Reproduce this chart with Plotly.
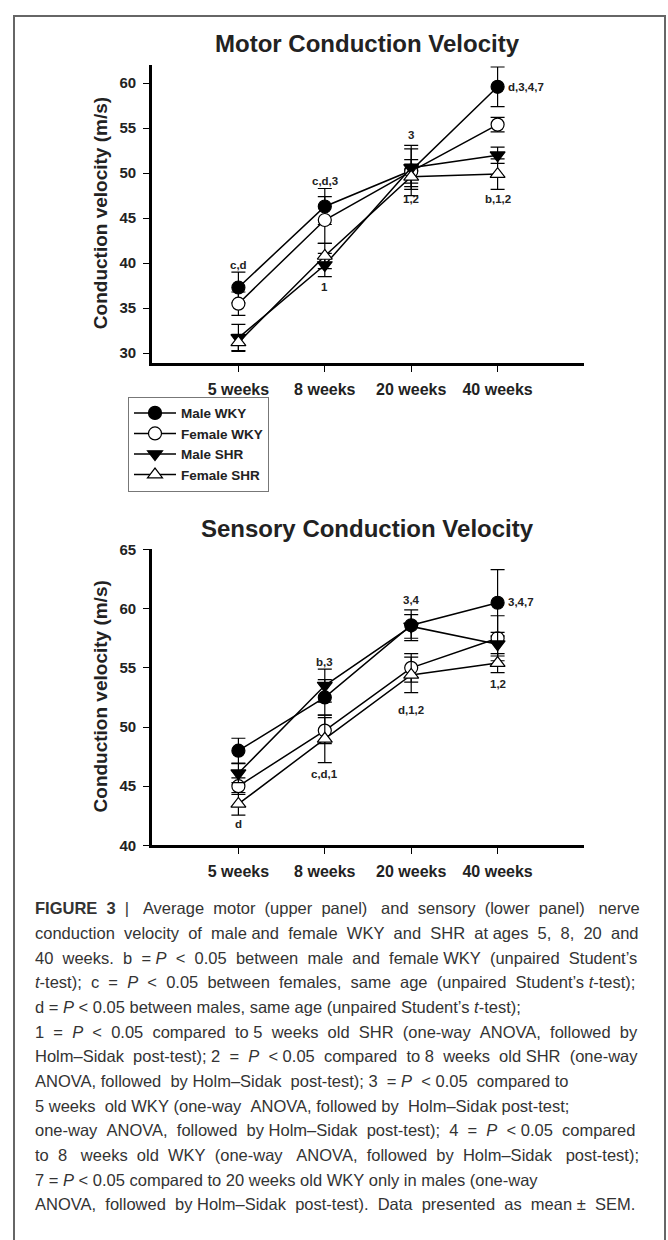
import plotly.graph_objects as go

W, H = 668, 1240

ages = ["5 weeks", "8 weeks", "20 weeks", "40 weeks"]
groups = ["Male WKY", "Female WKY", "Male SHR", "Female SHR"]

# Motor conduction velocity (m/s), mean and SEM
motor_male_wky = [37.3, 46.3, 50.3, 59.6]
motor_female_wky = [35.5, 44.8, 50.2, 55.4]
motor_male_shr = [31.7, 39.8, 50.6, 52.0]
motor_female_shr = [31.2, 40.8, 49.6, 49.9]
motor_male_wky_sem = [1.7, 2.0, 2.8, 2.2]
motor_female_wky_sem = [1.3, 2.6, 1.3, 0.8]
motor_male_shr_sem = [1.5, 1.3, 2.1, 0.9]
motor_female_shr_sem = [0.9, 1.4, 1.4, 1.7]

# Sensory conduction velocity (m/s), mean and SEM
sens_male_wky = [48.0, 52.5, 58.6, 60.5]
sens_female_wky = [45.0, 49.7, 55.0, 57.5]
sens_male_shr = [46.1, 53.5, 58.5, 57.0]
sens_female_shr = [43.5, 49.0, 54.4, 55.4]
sens_male_wky_sem = [1.05, 1.5, 1.3, 2.8]
sens_female_wky_sem = [0.7, 1.1, 1.2, 1.9]
sens_male_shr_sem = [0.8, 1.4, 1.0, 1.0]
sens_female_shr_sem = [0.95, 2.0, 1.5, 0.8]

# significance labels: (age, value position, text, side)
motor_labels = [("5 weeks", 39.8, "c,d", "c"), ("8 weeks", 49.1, "c,d,3", "c"),
                ("8 weeks", 37.4, "1", "c"), ("20 weeks", 54.3, "3", "c"),
                ("20 weeks", 47.1, "1,2", "c"), ("40 weeks", 59.6, "d,3,4,7", "r"),
                ("40 weeks", 47.1, "b,1,2", "c")]
sens_labels = [("5 weeks", 41.8, "d", "c"), ("8 weeks", 55.5, "b,3", "c"),
               ("8 weeks", 46.0, "c,d,1", "c"), ("20 weeks", 60.7, "3,4", "c"),
               ("20 weeks", 51.4, "d,1,2", "c"), ("40 weeks", 60.6, "3,4,7", "r"),
               ("40 weeks", 53.6, "1,2", "c")]

# caption: [..] bold, {..} italic
caption_lines = [
    "[FIGURE] [3] | Average motor (upper panel) and sensory (lower panel) nerve",
    "conduction velocity of male and female WKY and SHR at ages 5, 8, 20 and",
    "40 weeks. b = {P} < 0.05 between male and female WKY (unpaired Student’s",
    "{t}-test); c = {P} < 0.05 between females, same age (unpaired Student’s {t}-test);",
    "d = {P} < 0.05 between males, same age (unpaired Student’s {t}-test);",
    "1 = {P} < 0.05 compared to 5 weeks old SHR (one-way ANOVA, followed by",
    "Holm–Sidak post-test); 2 = {P} < 0.05 compared to 8 weeks old SHR (one-way",
    "ANOVA, followed by Holm–Sidak post-test); 3 = {P} < 0.05 compared to",
    "5 weeks old WKY (one-way ANOVA, followed by Holm–Sidak post-test;",
    "one-way ANOVA, followed by Holm–Sidak post-test); 4 = {P} < 0.05 compared",
    "to 8 weeks old WKY (one-way ANOVA, followed by Holm–Sidak post-test);",
    "7 = {P} < 0.05 compared to 20 weeks old WKY only in males (one-way",
    "ANOVA, followed by Holm–Sidak post-test). Data presented as mean ± SEM.",
]
caption_right = [637, 637, 637, 637, None, 637, 637, 569, 569, 637, 637, None, 637]

FONT = "Arial, Liberation Sans"
CAP_SIZE = 16.5

# Arial advance widths (1/1000 em) used to spread words across a justified line
AW = {" ": 278, "'": 191, "(": 333, ")": 333, ",": 278, "-": 333, ".": 278, ";": 278,
      "<": 584, "=": 584, "|": 260, "’": 222, "–": 556, "±": 584,
      "A": 667, "B": 667, "C": 722, "D": 722, "E": 667, "F": 611, "G": 778, "H": 722,
      "I": 278, "K": 667, "M": 833, "N": 722, "O": 778, "P": 667, "R": 722, "S": 667,
      "U": 722, "V": 667, "W": 944, "Y": 667,
      "a": 556, "b": 556, "c": 500, "d": 556, "e": 556, "f": 278, "g": 556, "h": 556,
      "i": 222, "k": 500, "l": 222, "m": 833, "n": 556, "o": 556, "p": 556, "r": 333,
      "s": 500, "t": 278, "u": 556, "v": 500, "w": 722, "y": 500}


def fx(px):
    return px / W


def fy(py):
    return 1 - py / H


def word_plain(tok):
    for c in "[]{}":
        tok = tok.replace(c, "")
    return tok


def word_html(tok):
    bold = tok.startswith("[") and tok.endswith("]")
    t = tok.strip("[]").replace("<", "&lt;").replace("{", "<i>").replace("}", "</i>")
    return "<b>%s</b>" % t if bold else t


def word_width(tok):
    return sum(AW.get(ch, 556) for ch in word_plain(tok)) * CAP_SIZE / 1000.0


def build_line(line, right):
    words = line.split(" ")
    gaps = len(words) - 1
    counts = [1] * gaps
    if right is not None and gaps > 0:
        sp = AW[" "] * CAP_SIZE / 1000.0
        free = (right - 34) - sum(word_width(w) for w in words)
        units = max(free / sp, gaps)
        counts = [max(1, round((i + 1) * units / gaps) - round(i * units / gaps)) for i in range(gaps)]
    out = word_html(words[0])
    for k, w in zip(counts, words[1:]):
        out += "\u00a0" * k + word_html(w)
    return out


styles = [
    dict(symbol="circle", color="black"),
    dict(symbol="circle", color="white"),
    dict(symbol="triangle-down", color="black"),
    dict(symbol="triangle-up", color="white"),
]

fig = go.Figure()

motor = [motor_male_wky, motor_female_wky, motor_male_shr, motor_female_shr]
motor_sem = [motor_male_wky_sem, motor_female_wky_sem, motor_male_shr_sem, motor_female_shr_sem]
sens = [sens_male_wky, sens_female_wky, sens_male_shr, sens_female_shr]
sens_sem = [sens_male_wky_sem, sens_female_wky_sem, sens_male_shr_sem, sens_female_shr_sem]

for panel, (vals, sems, xa, ya) in enumerate([(motor, motor_sem, "x", "y"), (sens, sens_sem, "x2", "y2")]):
    for name, v, s, st in zip(groups, vals, sems, styles):
        fig.add_trace(go.Scatter(
            x=ages, y=v, name=name, xaxis=xa, yaxis=ya,
            mode="lines+markers", showlegend=(panel == 0),
            line=dict(color="black", width=1.5),
            marker=dict(symbol=st["symbol"], color=st["color"], size=13,
                        line=dict(color="black", width=1.2)),
            error_y=dict(type="data", array=s, color="black", thickness=1.2, width=7),
        ))

axis_common = dict(showline=True, linecolor="black", linewidth=2.6, ticks="outside",
                   ticklen=6, tickwidth=1.4, tickcolor="black", showgrid=False, zeroline=False)
ytickfont = dict(family=FONT, size=15, color="#222", weight="bold")
xtickfont = dict(family=FONT, size=16, color="#222", weight="bold")

fig.update_layout(
    width=W, height=H, autosize=False,
    margin=dict(l=0, r=0, t=0, b=0),
    paper_bgcolor="white", plot_bgcolor="white",
    xaxis=dict(domain=[fx(152), fx(584)], range=[-1, 4], type="category", anchor="y",
               ticklabelstandoff=4, tickfont=xtickfont, **axis_common),
    yaxis=dict(domain=[fy(359), fy(57)], range=[28.9, 62], tickvals=[30, 35, 40, 45, 50, 55, 60],
               anchor="x", ticklabelstandoff=4, tickfont=ytickfont, **axis_common),
    xaxis2=dict(domain=[fx(152), fx(584)], range=[-1, 4], type="category", anchor="y2",
                ticklabelstandoff=4, tickfont=xtickfont, **axis_common),
    yaxis2=dict(domain=[fy(848), fy(548)], range=[40, 65], tickvals=[40, 45, 50, 55, 60, 65],
                anchor="x2", ticklabelstandoff=4, tickfont=ytickfont, **axis_common),
    legend=dict(x=fx(128), y=fy(393), xanchor="left", yanchor="top",
                bgcolor="white", bordercolor="#777", borderwidth=1,
                font=dict(family=FONT, size=13.5, color="#222", weight="bold"),
                tracegroupgap=0, itemwidth=42),
)

ann = []
for txt, yc in (("Motor Conduction Velocity", 35), ("Sensory Conduction Velocity", 527)):
    ann.append(dict(text="<b>%s</b>" % txt, x=fx(367), y=fy(yc), xref="paper", yref="paper",
                    xanchor="center", yanchor="middle", showarrow=False,
                    font=dict(family=FONT, size=24, color="#222")))
for yc in (207, 697):
    ann.append(dict(text="<b>Conduction velocity (m/s)</b>", x=fx(100), y=fy(yc), xref="paper", yref="paper",
                    xanchor="center", yanchor="middle", textangle=-90, showarrow=False,
                    font=dict(family=FONT, size=19, color="#222")))
for labels, xr, yr in ((motor_labels, "x", "y"), (sens_labels, "x2", "y2")):
    for age, yv, txt, side in labels:
        d = dict(text="<b>%s</b>" % txt, x=age, y=yv, xref=xr, yref=yr, showarrow=False,
                 xanchor="center", yanchor="middle",
                 font=dict(family=FONT, size=11.5, color="#222"))
        if side == "r":
            d.update(xanchor="left", xshift=8)
        ann.append(d)
for i, (line, right) in enumerate(zip(caption_lines, caption_right)):
    ann.append(dict(text=build_line(line, right), x=fx(33), y=fy(912 + i * 25.0), xref="paper", yref="paper",
                    xanchor="left", yanchor="middle", showarrow=False, align="left",
                    font=dict(family=FONT, size=CAP_SIZE, color="#333")))
fig.update_layout(annotations=ann)

fig.add_shape(type="rect", xref="paper", yref="paper", x0=fx(14), x1=fx(665), y0=fy(1250), y1=fy(7),
              line=dict(color="#666", width=2), layer="below")

fig.write_html("out.html")
